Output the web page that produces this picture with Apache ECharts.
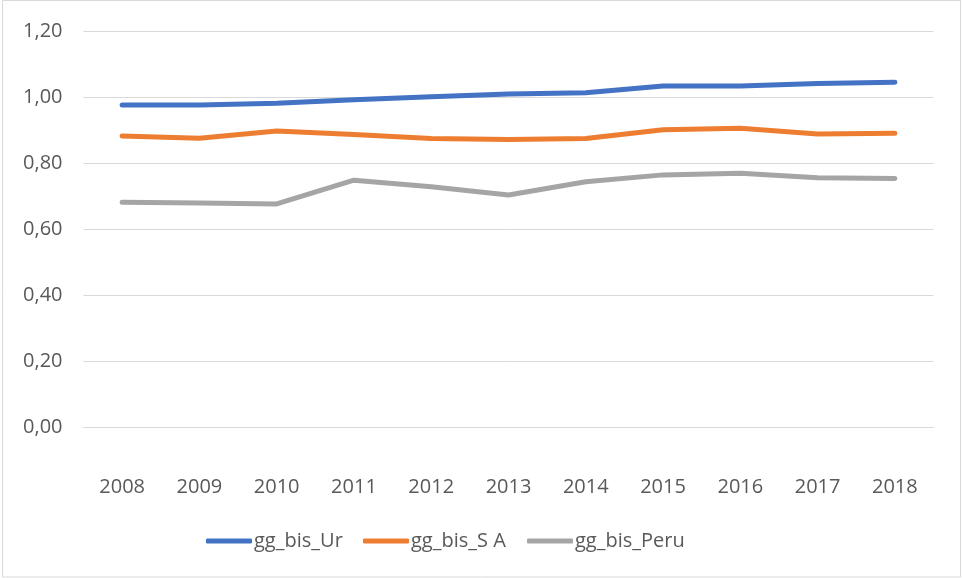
<!DOCTYPE html>
<html>
<head>
<meta charset="utf-8">
<script src="https://cdn.jsdelivr.net/npm/echarts@6/dist/echarts.min.js"></script>
<style>
  html, body { margin: 0; padding: 0; background: #fff; }
  #chart { width: 963px; height: 578px; }
</style>
</head>
<body>
<div id="chart"></div>
<script>
// years on the x axis
const years = ['2008', '2009', '2010', '2011', '2012', '2013', '2014', '2015', '2016', '2017', '2018'];

// values
const ggBisUr = [0.976, 0.976, 0.981, 0.992, 1.001, 1.009, 1.013, 1.033, 1.033, 1.041, 1.045];
const ggBisSA = [0.882, 0.875, 0.897, 0.886, 0.874, 0.871, 0.874, 0.901, 0.905, 0.888, 0.890];
const ggBisPeru = [0.681, 0.679, 0.676, 0.748, 0.728, 0.703, 0.743, 0.764, 0.769, 0.755, 0.753];

const seriesNames = ['gg_bis_Ur', 'gg_bis_S A', 'gg_bis_Peru'];
const seriesColors = ['#4472C4', '#ED7D31', '#A5A5A5'];

const FONT = '"Open Sans", "Liberation Sans", sans-serif';
const TEXT_COLOR = '#595959';

const chart = echarts.init(document.getElementById('chart'));

function lineSeries(name, data, color) {
    return {
        name: name,
        type: 'line',
        data: data,
        showSymbol: false,
        symbol: 'none',
        smooth: false,
        lineStyle: { color: color, width: 5, cap: 'round', join: 'round' },
        itemStyle: { color: color },
        emphasis: { disabled: true }
    };
}

// one legend per series so each entry sits where Excel put it
const legendLefts = [201, 358, 522];
function legendItem(i) {
    return {
        left: legendLefts[i],
        top: 526,
        itemWidth: 46,
        itemHeight: 5,
        icon: 'roundRect',
        selectedMode: false,
        textStyle: { fontFamily: FONT, fontSize: 20, color: TEXT_COLOR, padding: [0, 0, 0, -3] },
        data: [seriesNames[i]]
    };
}

chart.setOption({
    animation: false,
    backgroundColor: '#fff',
    graphic: [{
        type: 'rect',
        shape: { x: 2.5, y: 0.5, width: 958, height: 576.5 },
        style: { fill: 'none', stroke: '#d9d9d9', lineWidth: 1 },
        silent: true
    }],
    grid: { left: 83.5, right: 29.5, top: 31, bottom: 151, containLabel: false },
    legend: [legendItem(0), legendItem(1), legendItem(2)],
    xAxis: {
        type: 'category',
        data: years,
        boundaryGap: true,
        axisLine: { show: true, lineStyle: { color: '#d9d9d9', width: 1 } },
        axisTick: { show: false },
        axisLabel: { fontFamily: FONT, fontSize: 20, color: TEXT_COLOR, margin: 50 }
    },
    yAxis: {
        type: 'value',
        min: 0,
        max: 1.2,
        interval: 0.2,
        axisLine: { show: false },
        axisTick: { show: false },
        axisLabel: {
            fontFamily: FONT, fontSize: 20, color: TEXT_COLOR, margin: 21,
            formatter: (v) => v.toFixed(2).replace('.', ',')
        },
        splitLine: { show: true, lineStyle: { color: '#d9d9d9', width: 1 } }
    },
    series: [
        lineSeries(seriesNames[0], ggBisUr, seriesColors[0]),
        lineSeries(seriesNames[1], ggBisSA, seriesColors[1]),
        lineSeries(seriesNames[2], ggBisPeru, seriesColors[2])
    ]
});
</script>
</body>
</html>
